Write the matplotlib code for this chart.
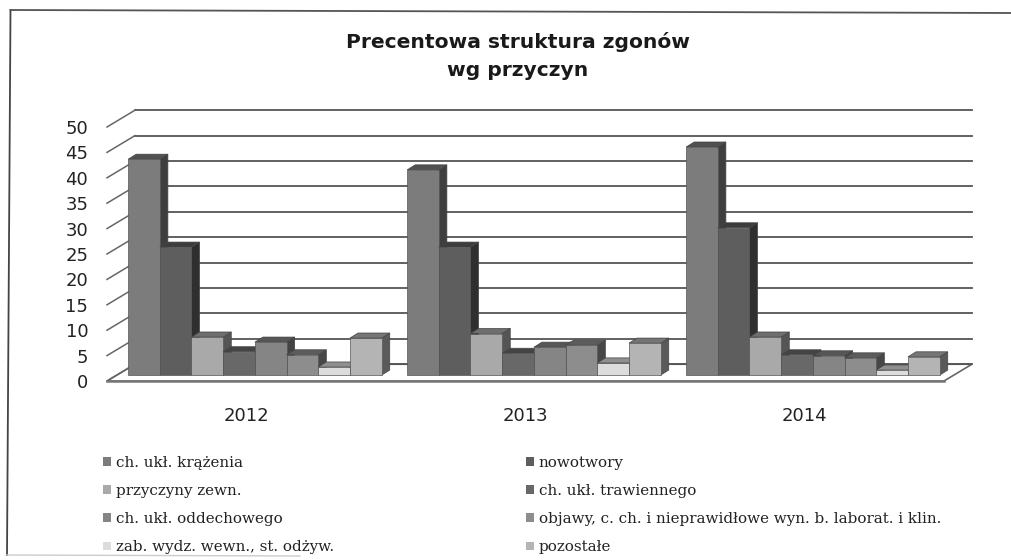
import numpy as np
import matplotlib
matplotlib.use('Agg')
import matplotlib.pyplot as plt
from matplotlib.lines import Line2D
from matplotlib.patches import Patch, Polygon
from matplotlib.colors import to_rgb

# Dane

years = ['2012', '2013', '2014']
y_ticks = [0, 5, 10, 15, 20, 25, 30, 35, 40, 45, 50]

krazenia = [42.5, 40.4, 44.9]
nowotwory = [25.2, 25.2, 29.0]
zewn = [7.5, 8.2, 7.5]
trawienny = [4.6, 4.3, 4.0]
oddechowy = [6.5, 5.5, 3.8]
objawy = [4.0, 5.9, 3.4]
wydz = [1.6, 2.4, 1.0]
pozostale = [7.3, 6.3, 3.6]

series = [krazenia, nowotwory, zewn, trawienny, oddechowy, objawy, wydz, pozostale]
labels = ['ch. ukł. krążenia', 'nowotwory', 'przyczyny zewn.', 'ch. ukł. trawiennego',
          'ch. ukł. oddechowego', 'objawy, c. ch. i nieprawidłowe wyn. b. laborat. i klin.',
          'zab. wydz. wewn., st. odżyw.', 'pozostałe']
colors = ['#7c7c7c', '#5e5e5e', '#a9a9a9', '#686868', '#858585', '#8d8d8d', '#dcdcdc', '#b4b4b4']

W, H = 1011, 560
fig = plt.figure(figsize=(W / 100, H / 100), dpi=100, facecolor='white')
ax = fig.add_axes([107 / W, (H - 381) / H, 837 / W, 254 / H])
ax.set_xlim(-0.5, 2.5)
ax.set_ylim(0, 50)
ax.set_facecolor('none')
for s in ax.spines.values():
    s.set_visible(False)

# pseudo 3D: przesuniecia w jednostkach danych
wall_dx, wall_dy = 0.1, 3.3
bar_dx, bar_dy = 0.029, 1.0
off_x, off_y = 0.03, 1.15
bar_w = 0.1136
line_col = '#555555'

# podloga i sciany
ax.add_patch(Polygon([(-0.5, 0), (2.5, 0), (2.5 + wall_dx, wall_dy), (-0.5 + wall_dx, wall_dy)],
                     closed=True, facecolor='white', edgecolor='#666666', lw=1.2,
                     clip_on=False, zorder=1))
for v in y_ticks:
    ax.plot([-0.5 + wall_dx, 2.5 + wall_dx], [v + wall_dy, v + wall_dy], color=line_col,
            lw=1.3, clip_on=False, zorder=1)
    ax.plot([-0.5, -0.5 + wall_dx], [v, v + wall_dy], color='#666666', lw=1.1,
            clip_on=False, zorder=1)
ax.plot([-0.5, 2.5], [0, 0], color='#777777', lw=1.8, clip_on=False, zorder=1.5)


def darker(c, f):
    return tuple(x * f for x in to_rgb(c))


# slupki
for g in range(len(years)):
    for i, vals in enumerate(series):
        x0 = g - 4 * bar_w + i * bar_w + off_x
        x1 = x0 + bar_w
        top = vals[g] + off_y
        z = 3 + i * 0.1
        ax.add_patch(Polygon([(x1, off_y), (x1 + bar_dx, off_y + bar_dy),
                              (x1 + bar_dx, top + bar_dy), (x1, top)], closed=True,
                             facecolor=darker(colors[i], 0.5), edgecolor='#444444', lw=0.5,
                             clip_on=False, zorder=z))
        ax.add_patch(Polygon([(x0, top), (x1, top), (x1 + bar_dx, top + bar_dy),
                              (x0 + bar_dx, top + bar_dy)], closed=True,
                             facecolor=darker(colors[i], 0.65), edgecolor='#444444', lw=0.5,
                             clip_on=False, zorder=z))
        ax.bar(x0, vals[g], bar_w, bottom=off_y, align='edge', color=colors[i],
               edgecolor='#555555', lw=0.5, clip_on=False, zorder=z + 0.05)

ax.set_yticks(y_ticks)
ax.set_xticks(range(len(years)))
ax.set_xticklabels(years)
ax.tick_params(axis='y', length=0, pad=13.5, labelsize=13, labelcolor='#222222')
ax.tick_params(axis='x', length=0, pad=18.5, labelsize=13, labelcolor='#222222')

fig.text(518 / W, 1 - 42 / H, 'Precentowa struktura zgonów', ha='center', va='center',
         fontsize=14.6, fontweight='bold', color='#1a1a1a')
fig.text(518 / W, 1 - 70 / H, 'wg przyczyn', ha='center', va='center',
         fontsize=14.6, fontweight='bold', color='#1a1a1a')

# legenda: matplotlib wypelnia kolumnami, wiec kolejnosc trzeba przestawic
order = [0, 2, 4, 6, 1, 3, 5, 7]
handles = [Patch(facecolor=colors[i], edgecolor='none') for i in order]
leg = fig.legend(handles, [labels[i] for i in order], ncols=2, frameon=False,
                 loc='upper left', bbox_to_anchor=(103 / W, 1 - 456 / H),
                 prop={'family': 'DejaVu Serif', 'size': 10.9},
                 handlelength=0.5, handleheight=0.5, handletextpad=0.33,
                 labelspacing=0.93, columnspacing=12.7, borderpad=0, borderaxespad=0,
                 labelcolor='#222222')

# ramka skanu
fig.add_artist(Line2D([10.5 / W, 7 / W], [1 - 10 / H, 1 - 555 / H], color='#444444', lw=1.3))
fig.add_artist(Line2D([10.5 / W, W / W], [1 - 10 / H, 1 - 13 / H], color='#555555', lw=1.3))
fig.add_artist(Line2D([7 / W, 300 / W], [1 - 555 / H, 1 - 556 / H], color='#cccccc', lw=1))

fig.savefig('out.png', dpi=100)
